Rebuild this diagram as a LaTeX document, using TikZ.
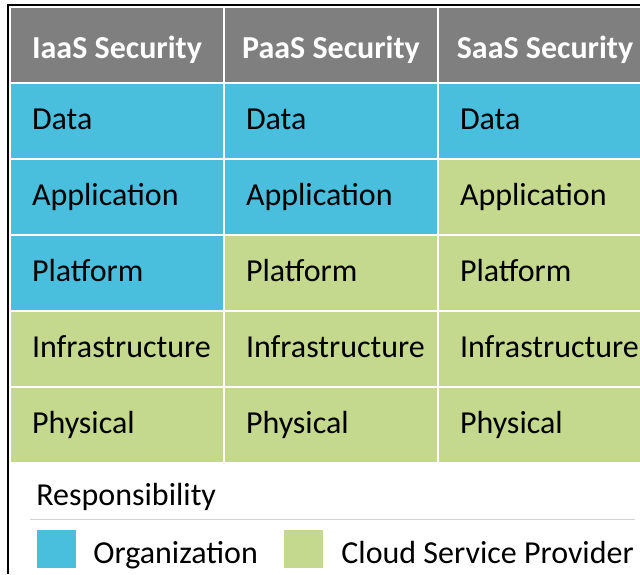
\documentclass[tikz,border=0pt]{standalone}
\usepackage{fontspec}
\setmainfont{Carlito}
\usetikzlibrary{positioning}
\definecolor{hdrgray}{RGB}{127,127,127}
\definecolor{orgblue}{RGB}{73,190,221}
\definecolor{cspgreen}{RGB}{196,216,142}
\definecolor{rulegray}{RGB}{210,210,210}
\hyphenpenalty=10000

\begin{document}
\begin{tikzpicture}[x=0.5pt,y=-0.5pt,node distance=1pt]
       \tikzset{cell/.style = {rectangle, outer sep=0pt, minimum width=106pt, minimum height=37pt, text height=10.3pt, text depth=1.8pt, font=\fontsize{16}{19}\selectfont}, }
       \tikzset{head/.style = {cell, fill=hdrgray, text=white, text height=13pt, text depth=0pt, font=\fontsize{16}{19}\selectfont\bfseries}, }
       \tikzset{org/.style = {cell, fill=orgblue, text width=85pt, inner xsep=10.5pt, align=left}, }
       \tikzset{csp/.style = {cell, fill=cspgreen, text width=85pt, inner xsep=10.5pt, align=left}, }
       \tikzset{legend/.style = {inner sep=0pt, font=\fontsize{16}{19}\selectfont}, }
       \tikzset{swatch/.style = {rectangle, inner sep=0pt, minimum width=19.5pt, minimum height=19pt}, }
       \useasboundingbox (0,0) rectangle (640,574);
       \clip (0,0) rectangle (640,574);

       \node[head, anchor=north west] (H1) at (11,8) {IaaS Security};
       \node[head, right=of H1] (H2) {PaaS Security};
       \node[head, right=of H2] (H3) {SaaS Security};

       \node[org, below=of H1] (D1) {Data};
       \node[org, below=of H2] (D2) {Data};
       \node[org, below=of H3] (D3) {Data};

       \node[org, below=of D1] (A1) {Application};
       \node[org, below=of D2] (A2) {Application};
       \node[csp, below=of D3] (A3) {Application};

       \node[org, below=of A1] (P1) {Platform};
       \node[csp, below=of A2] (P2) {Platform};
       \node[csp, below=of A3] (P3) {Platform};

       \node[csp, below=of P1] (I1) {Infrastructure};
       \node[csp, below=of P2] (I2) {Infrastructure};
       \node[csp, below=of P3] (I3) {Infrastructure};

       \node[csp, below=of I1] (Ph1) {Physical};
       \node[csp, below=of I2] (Ph2) {Physical};
       \node[csp, below=of I3] (Ph3) {Physical};

       \node[legend, anchor=base west] (resp) at (36,505) {Responsibility};
       \draw[rulegray, line width=0.75pt] (30,519.5) -- (635,519.5);
       \node[swatch, fill=orgblue, anchor=north west] (orgkey) at (37,530) {};
       \node[legend, anchor=base west] (orgtext) at (93,563) {Organization};
       \node[swatch, fill=cspgreen, anchor=north west] (cspkey) at (284,530) {};
       \node[legend, anchor=base west] (csptext) at (341,563) {Cloud Service Provider};

       \draw[line width=1pt] (8,574) -- (8,5) -- (640,5);

\end{tikzpicture}
\end{document}
